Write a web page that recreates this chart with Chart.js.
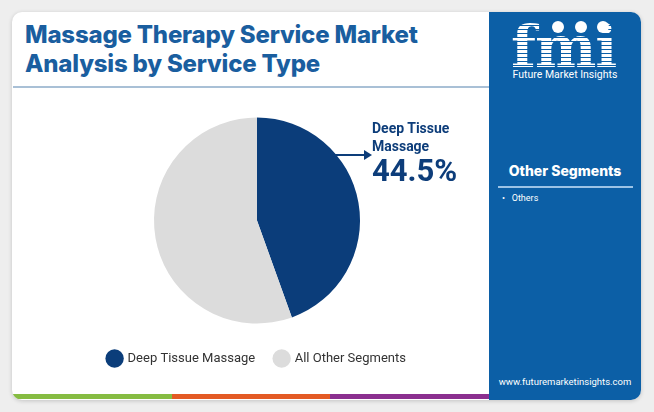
<!DOCTYPE html>
<html><head><meta charset="utf-8">
<script src="https://cdn.jsdelivr.net/npm/chart.js@4.4.1/dist/chart.umd.min.js"></script>
<style>
html,body{margin:0;padding:0;}
body{width:654px;height:412px;background:#eeeeee;position:relative;overflow:hidden;font-family:Roboto,sans-serif;}
#card{position:absolute;left:12px;top:12px;width:629px;height:388px;background:#fff;border-radius:10px;box-shadow:0 1px 4px rgba(0,0,0,0.18);overflow:hidden;}
#title{position:absolute;left:13px;top:8px;font-family:Inter,sans-serif;font-weight:800;font-size:24px;line-height:29px;color:#1a5e9f;letter-spacing:-0.2px;}
#rule{position:absolute;left:1px;top:74px;width:476px;height:2px;background:#a9c0d6;}
#panel{position:absolute;left:477px;top:0;width:152px;height:388px;background:#0c5fa6;}
#bars{position:absolute;left:1px;top:382px;height:5px;width:476px;display:flex;}
#bars div{flex:1;}
#logo{position:absolute;left:22px;top:6px;font-family:"DejaVu Serif",serif;font-weight:bold;font-size:58px;line-height:58px;letter-spacing:-1px;
 background:repeating-linear-gradient(to bottom,#ffffff 0px,#ffffff 3px,#0c5fa6 3px,#0c5fa6 4px);-webkit-background-clip:text;background-clip:text;color:transparent;}
.dot{position:absolute;width:12px;height:12px;border-radius:50%;background:#fff;top:9px;}
#fmitext{position:absolute;left:0;width:152px;top:56px;text-align:center;color:#fff;font-size:10.5px;font-family:Roboto,sans-serif;}
#oseg{position:absolute;left:0;width:152px;top:150px;text-align:center;color:#fff;font-family:Inter,sans-serif;font-weight:800;font-size:14px;}
#oline{position:absolute;left:9px;width:135px;top:174px;height:2px;background:#9cc3e6;}
#others{position:absolute;left:13px;top:181px;color:#fff;font-size:9px;}
#url{position:absolute;left:0;width:152px;top:364px;text-align:center;color:#fff;font-size:9.5px;}
#annot{position:absolute;left:372px;top:119px;color:#0d3d7a;font-weight:bold;font-family:Roboto,sans-serif;}
#annot .l{font-size:14px;line-height:18px;}
#annot .p{font-size:31px;line-height:31px;margin-top:0px;}
#arrow{position:absolute;left:335px;top:148px;}
#wrap{position:absolute;left:13px;top:90px;width:476px;height:300px;}
</style></head>
<body>
<div id="card">
  <div id="title">Massage Therapy Service Market<br>Analysis by Service Type</div>
  <div id="rule"></div>
  <div id="bars"><div style="background:#86bc42"></div><div style="background:#e35a24"></div><div style="background:#8b2f8f"></div></div>
  <div id="panel">
    <div id="logo">fmi</div>
    <div class="dot" style="left:63px"></div><div class="dot" style="left:86px"></div><div class="dot" style="left:108px"></div>
    <div id="fmitext">Future Market Insights</div>
    <div id="oseg">Other Segments</div>
    <div id="oline"></div>
    <div id="others">•&nbsp;&nbsp;&nbsp;Others</div>
    <div id="url">www.futuremarketinsights.com</div>
  </div>
</div>
<div id="wrap"><canvas id="c" width="476" height="300"></canvas></div>
<div id="annot"><div class="l">Deep Tissue</div><div class="l">Massage</div><div class="p">44.5%</div></div>
<svg id="arrow" width="40" height="14"><line x1="0" y1="7" x2="30" y2="7" stroke="#0d3d7a" stroke-width="2"/><polygon points="29,2 37,7 29,12" fill="#0d3d7a"/></svg>
<script>
const categories = ["Deep Tissue Massage", "All Other Segments"];
const shares = [44.5, 55.5];
const colors = ["#0b3d7a", "#dcdcdc"];

new Chart(document.getElementById('c'), {
  type: 'pie',
  data: { labels: categories, datasets: [{ data: shares, backgroundColor: colors, borderWidth: 0, radius: 103 }] },
  options: {
    responsive: false, animation: false,
    layout: { padding: { top: 19, bottom: 15, left: 12, right: 0 } },
    plugins: {
      tooltip: { enabled: false },
      legend: { position: 'bottom', labels: { usePointStyle: true, pointStyle: 'circle', padding: 20, color: '#333', font: { family: 'Roboto', size: 13 } } }
    }
  }
});
</script>
</body></html>
